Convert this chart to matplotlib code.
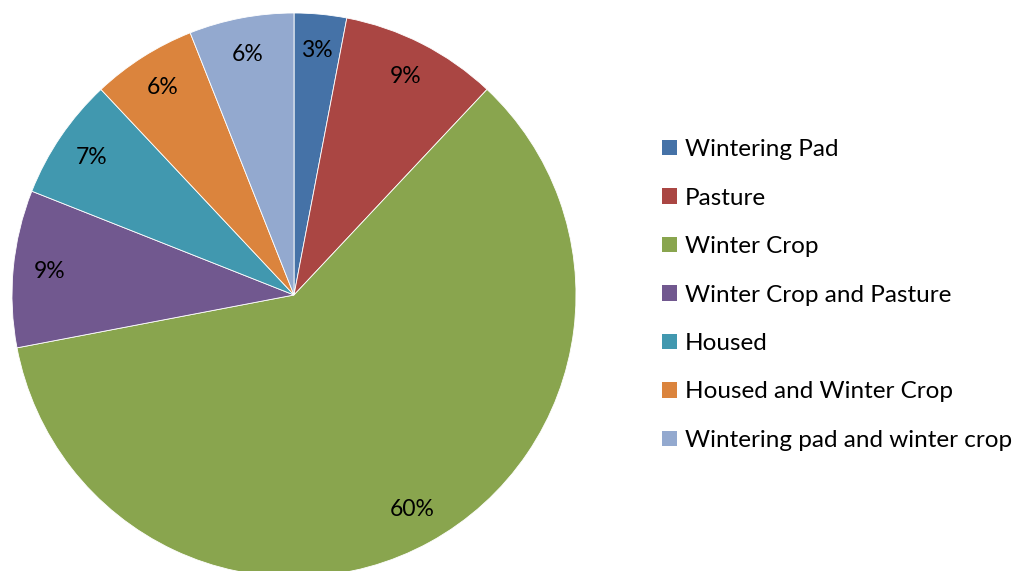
import matplotlib.pyplot as plt
from matplotlib.patches import Patch

plt.rcParams['font.family'] = ['Lato', 'DejaVu Sans']

# 데이터
categories = ['Wintering Pad', 'Pasture', 'Winter Crop', 'Winter Crop and Pasture',
              'Housed', 'Housed and Winter Crop', 'Wintering pad and winter crop']
shares = [3, 9, 60, 9, 7, 6, 6]
colors = ['#4572A7', '#AA4643', '#89A54E', '#71588F', '#4198AF', '#DB843D', '#93A9CF']

fig = plt.figure(figsize=(10.21, 5.71), dpi=100)
# 파이 영역: 중심 (294,295)px, 반지름 282px
ax = fig.add_axes([12/1021, -6/571, 564/1021, 564/571])

wedges, texts, autotexts = ax.pie(
    shares,
    colors=colors,
    startangle=90,
    counterclock=False,
    radius=1,
    autopct='%d%%',
    pctdistance=0.87,
    wedgeprops=dict(edgecolor='white', linewidth=0.6),
    textprops=dict(fontsize=16.5, color='black'),
)
ax.set_xlim(-1, 1)
ax.set_ylim(-1, 1)
ax.set_aspect('equal')
ax.axis('off')

handles = [Patch(facecolor=c, edgecolor='none') for c in colors]
fig.legend(handles, categories,
           loc='center left', bbox_to_anchor=(662/1021, 1 - 295/571),
           frameon=False, fontsize=17.5,
           handlelength=0.6, handleheight=0.6, handletextpad=0.33,
           labelspacing=1.13, borderpad=0, borderaxespad=0)

fig.savefig('out.png', dpi=100)
